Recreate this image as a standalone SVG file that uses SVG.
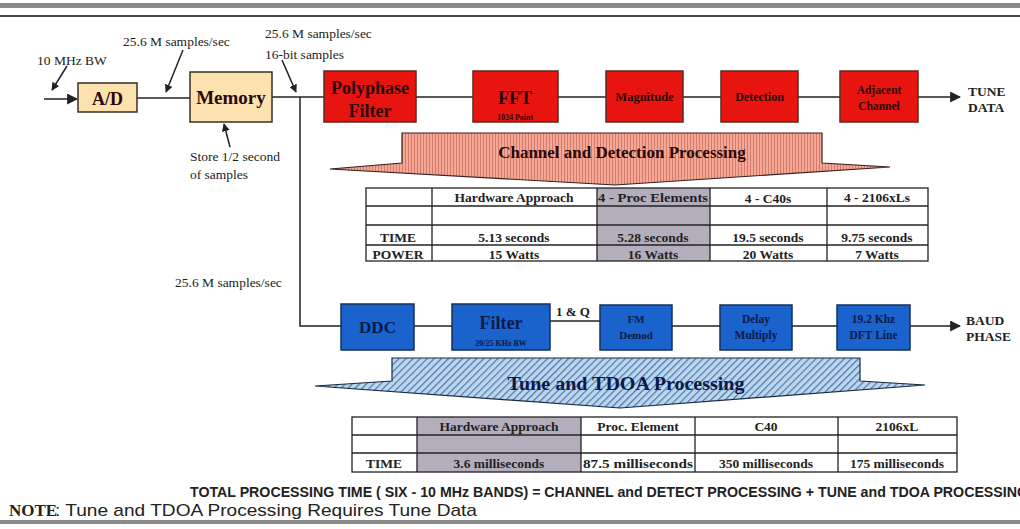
<svg xmlns="http://www.w3.org/2000/svg" width="1020" height="529" viewBox="0 0 1020 529">
<style>
.lbl{font-family:"Liberation Serif",serif;font-size:13.5px;fill:#222}
.bl{font-family:"Liberation Serif",serif;font-weight:bold;fill:#222}
.red{fill:#e8140f;stroke:#5a2a20;stroke-width:1.5}
.blue{fill:#1a62cc;stroke:#14305a;stroke-width:1.5}
.tan{fill:#fbe2ae;stroke:#3a3020;stroke-width:1.5}
.rt{font-family:"Liberation Serif",serif;font-weight:bold;fill:#2a0808;text-anchor:middle}
.bt{font-family:"Liberation Serif",serif;font-weight:bold;fill:#0b1a48;text-anchor:middle}
.ln{stroke:#222;stroke-width:1.5;fill:none}
.tb{fill:none;stroke:#222;stroke-width:1.3}
.tt{font-family:"Liberation Serif",serif;font-weight:bold;font-size:13.5px;fill:#222;text-anchor:middle}
.cond{font-family:"Liberation Sans",sans-serif;fill:#222}
</style>
<defs>
<marker id="ah" viewBox="0 0 10 10" refX="9" refY="5" markerWidth="8" markerHeight="8" markerUnits="userSpaceOnUse" orient="auto">
<path d="M0,0 L10,5 L0,10 z" fill="#222"/>
</marker>
<marker id="ahb" viewBox="0 0 10 10" refX="9" refY="5" markerWidth="11" markerHeight="11" markerUnits="userSpaceOnUse" orient="auto">
<path d="M0,0 L10,5 L0,10 z" fill="#222"/>
</marker>
<pattern id="pink" width="3" height="10" patternUnits="userSpaceOnUse">
<rect width="3" height="10" fill="#f3a898"/>
<rect width="1" height="10" fill="#d87a68"/>
</pattern>
<pattern id="hatch" width="5" height="5" patternUnits="userSpaceOnUse" patternTransform="rotate(45)">
<rect width="5" height="5" fill="#bcd6ee"/>
<rect width="1.2" height="5" fill="#4a78a8"/>
</pattern>
</defs>
<rect width="1020" height="529" fill="#ffffff"/>
<g id="frame">
<rect x="0" y="3" width="1020" height="5" fill="#8a8a8a"/>
<rect x="0" y="15" width="1020" height="2" fill="#444"/>
<rect x="0" y="520" width="1020" height="4" fill="#8a8a8a"/>
</g>
<g id="connectors">
<line class="ln" x1="44" y1="99" x2="77" y2="99" marker-end="url(#ahb)"/>
<line class="ln" x1="137" y1="98" x2="190" y2="98"/>
<line class="ln" x1="272" y1="97" x2="324" y2="97"/>
<polyline class="ln" points="300,97 300,326 341,326"/>
<line class="ln" x1="416" y1="97" x2="473" y2="97"/>
<line class="ln" x1="558" y1="97" x2="606" y2="97"/>
<line class="ln" x1="683" y1="97" x2="721" y2="97"/>
<line class="ln" x1="798" y1="97" x2="840" y2="97"/>
<line class="ln" x1="918" y1="97" x2="960" y2="97" marker-end="url(#ahb)"/>
<line class="ln" x1="414" y1="326" x2="452" y2="326"/>
<line class="ln" x1="550" y1="321" x2="600" y2="321"/>
<line class="ln" x1="672" y1="326" x2="720" y2="326"/>
<line class="ln" x1="792" y1="326" x2="837" y2="326"/>
<line class="ln" x1="910" y1="326" x2="960" y2="326" marker-end="url(#ahb)"/>
<line class="ln" x1="67" y1="66" x2="52" y2="90" marker-end="url(#ah)"/>
<line class="ln" x1="183" y1="50" x2="166" y2="92" marker-end="url(#ah)"/>
<line class="ln" x1="282" y1="60" x2="296" y2="92" marker-end="url(#ah)"/>
<line class="ln" x1="230" y1="147" x2="224" y2="124" marker-end="url(#ah)"/>
</g>
<g id="labels">
<text class="lbl" x="37" y="65">10 MHz BW</text>
<text class="lbl" x="123" y="46">25.6 M samples/sec</text>
<text class="lbl" x="265" y="38">25.6 M samples/sec</text>
<text class="lbl" x="265" y="59">16-bit samples</text>
<text class="lbl" x="190" y="161">Store  1/2 second</text>
<text class="lbl" x="190" y="179">of samples</text>
<text class="lbl" x="175" y="287">25.6 M samples/sec</text>
<text class="bl" x="556" y="316" font-size="13">1 &amp; Q</text>
<text class="bl" x="968" y="96" font-size="13.5">TUNE</text>
<text class="bl" x="968" y="112" font-size="13.5">DATA</text>
<text class="bl" x="966" y="325" font-size="13.5">BAUD</text>
<text class="bl" x="966" y="341" font-size="13.5">PHASE</text>
</g>
<g id="ad"><rect class="tan" x="78" y="83" width="59" height="29"/><text class="rt" x="107.5" y="104.5" font-size="18">A/D</text></g>
<g id="memory"><rect class="tan" x="190" y="72" width="82" height="50"/><text class="rt" x="231" y="104" font-size="19">Memory</text></g>
<g id="polyphase"><rect class="red" x="324" y="71" width="92" height="51"/><text class="rt" x="370" y="94" font-size="18">Polyphase</text><text class="rt" x="370" y="117" font-size="18">Filter</text></g>
<g id="fft"><rect class="red" x="473" y="71" width="85" height="51"/><text class="rt" x="515" y="104" font-size="18">FFT</text><text class="rt" x="515" y="120" font-size="8">1024 Point</text></g>
<g id="magnitude"><rect class="red" x="606" y="71" width="77" height="51"/><text class="rt" x="644.5" y="101" font-size="12.5">Magnitude</text></g>
<g id="detection"><rect class="red" x="721" y="71" width="77" height="51"/><text class="rt" x="759.5" y="101" font-size="12">Detection</text></g>
<g id="adjacent"><rect class="red" x="840" y="71" width="78" height="51"/><text class="rt" x="879" y="94" font-size="11.5">Adjacent</text><text class="rt" x="879" y="110" font-size="11.5">Channel</text></g>
<g id="channel-arrow">
<polygon points="402,133 822,133 822,163 890,167 615,185 330,169 402,163" fill="url(#pink)" stroke="#3a2020" stroke-width="1.2"/>
<text class="rt" x="622" y="158" font-size="17">Channel and Detection Processing</text>
</g>
<g id="table1">
<rect x="597" y="188" width="113" height="73" fill="#b4aebc"/>
<rect class="tb" x="366" y="188" width="562" height="73"/>
<line class="tb" x1="366" y1="206" x2="928" y2="206"/>
<line class="tb" x1="366" y1="225" x2="928" y2="225"/>
<line class="tb" x1="366" y1="245" x2="928" y2="245"/>
<line class="tb" x1="432" y1="188" x2="432" y2="261"/>
<line class="tb" x1="597" y1="188" x2="597" y2="261"/>
<line class="tb" x1="710" y1="188" x2="710" y2="261"/>
<line class="tb" x1="827" y1="188" x2="827" y2="261"/>
<text class="tt" x="514" y="202">Hardware Approach</text>
<text class="tt" x="653" y="202" textLength="110" lengthAdjust="spacingAndGlyphs">4 - Proc Elements</text>
<text class="tt" x="768" y="203">4 - C40s</text>
<text class="tt" x="877" y="202">4 - 2106xLs</text>
<text class="tt" x="398" y="242">TIME</text>
<text class="tt" x="514" y="242">5.13 seconds</text>
<text class="tt" x="653" y="242">5.28 seconds</text>
<text class="tt" x="768" y="242">19.5 seconds</text>
<text class="tt" x="877" y="242">9.75 seconds</text>
<text class="tt" x="398" y="259">POWER</text>
<text class="tt" x="514" y="259">15 Watts</text>
<text class="tt" x="653" y="259">16 Watts</text>
<text class="tt" x="768" y="259">20 Watts</text>
<text class="tt" x="877" y="259">7 Watts</text>
</g>
<g id="ddc"><rect class="blue" x="341" y="304" width="73" height="46"/><text class="bt" x="377.5" y="333" font-size="17">DDC</text></g>
<g id="filter"><rect class="blue" x="452" y="304" width="98" height="46"/><text class="bt" x="501" y="329" font-size="18">Filter</text><text class="bt" x="501" y="346" font-size="8">20/25 KHz BW</text></g>
<g id="fmdemod"><rect class="blue" x="600" y="305" width="72" height="45"/><text class="bt" x="636" y="323" font-size="11">FM</text><text class="bt" x="636" y="339" font-size="11">Demod</text></g>
<g id="delay"><rect class="blue" x="720" y="305" width="72" height="45"/><text class="bt" x="756" y="323" font-size="11.5">Delay</text><text class="bt" x="756" y="339" font-size="11.5">Multiply</text></g>
<g id="dft"><rect class="blue" x="837" y="305" width="73" height="45"/><text class="bt" x="873.5" y="323" font-size="11.5">19.2 Khz</text><text class="bt" x="873.5" y="339" font-size="11.5">DFT Line</text></g>
<g id="tune-arrow">
<polygon points="392,358 860,358 860,381 925,385 620,408 315,386 392,381" fill="url(#hatch)" stroke="#1a2a40" stroke-width="1.2"/>
<text class="bt" x="626" y="390" font-size="18" textLength="237" lengthAdjust="spacingAndGlyphs">Tune and TDOA Processing</text>
</g>
<g id="table2">
<rect x="417" y="417" width="164" height="55" fill="#b4aebc"/>
<rect class="tb" x="352" y="417" width="605" height="55"/>
<line class="tb" x1="352" y1="435" x2="957" y2="435"/>
<line class="tb" x1="352" y1="453" x2="957" y2="453"/>
<line class="tb" x1="417" y1="417" x2="417" y2="472"/>
<line class="tb" x1="581" y1="417" x2="581" y2="472"/>
<line class="tb" x1="695" y1="417" x2="695" y2="472"/>
<line class="tb" x1="838" y1="417" x2="838" y2="472"/>
<text class="tt" x="499" y="431">Hardware Approach</text>
<text class="tt" x="638" y="431">Proc. Element</text>
<text class="tt" x="766" y="431">C40</text>
<text class="tt" x="897" y="431">2106xL</text>
<text class="tt" x="384" y="468">TIME</text>
<text class="tt" x="499" y="468">3.6 milliseconds</text>
<text class="tt" x="638" y="468" textLength="110" lengthAdjust="spacingAndGlyphs">87.5 milliseconds</text>
<text class="tt" x="766" y="468">350 milliseconds</text>
<text class="tt" x="897" y="468">175 milliseconds</text>
</g>
<g id="footer">
<text class="cond" x="190" y="497" font-size="14" font-weight="bold" textLength="838" lengthAdjust="spacingAndGlyphs">TOTAL PROCESSING TIME ( SIX - 10 MHz BANDS) = CHANNEL and DETECT  PROCESSING + TUNE and TDOA PROCESSING</text>
<text x="9" y="516" font-size="17" font-family="Liberation Serif, serif" font-weight="bold" fill="#222">NOTE</text>
<text class="cond" x="55" y="516" font-size="17" textLength="422" lengthAdjust="spacingAndGlyphs">: Tune and TDOA Processing Requires Tune Data</text>
</g>
</svg>
